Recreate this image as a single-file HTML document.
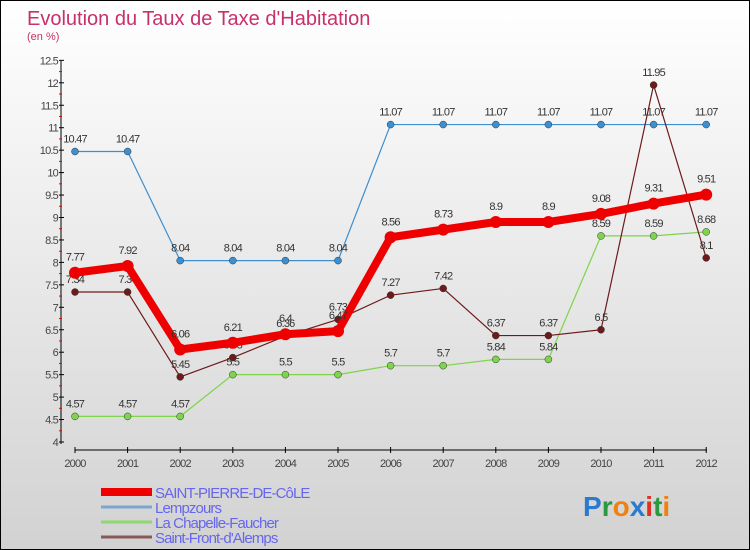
<!DOCTYPE html>
<html><head><meta charset="utf-8"><style>
html,body{margin:0;padding:0}
body{width:750px;height:550px;overflow:hidden;font-family:"Liberation Sans",sans-serif}
#wrap{position:relative;width:748px;height:548px;border:1px solid #000;background:linear-gradient(#ffffff,#d2d2d2)}
</style></head><body>
<div id="wrap">
<svg id="chart" width="748" height="548" style="position:absolute;left:0;top:0">
<text x="26" y="24" font-size="20" fill="#c8306a">Evolution du Taux de Taxe d'Habitation</text>
<text x="26" y="39" font-size="11" fill="#c8306a">(en %)</text>
</svg>
</div>
<script>
const years=[2000,2001,2002,2003,2004,2005,2006,2007,2008,2009,2010,2011,2012];
const yTicks=[4,4.5,5,5.5,6,6.5,7,7.5,8,8.5,9,9.5,10,10.5,11,11.5,12,12.5];
const stPierre=[7.77,7.92,6.06,6.21,6.4,6.47,8.56,8.73,8.9,8.9,9.08,9.31,9.51];
const lempzours=[10.47,10.47,8.04,8.04,8.04,8.04,11.07,11.07,11.07,11.07,11.07,11.07,11.07];
const chapelle=[4.57,4.57,4.57,5.5,5.5,5.5,5.7,5.7,5.84,5.84,8.59,8.59,8.68];
const stFront=[7.34,7.34,5.45,5.88,6.36,6.73,7.27,7.42,6.37,6.37,6.5,11.95,8.1];
const NS="http://www.w3.org/2000/svg";
const svg=document.getElementById('chart');
const xS=i=>74+i*52.6;
const yS=v=>441-(v-4)*44.9;
function mk(t,a,p){const e=document.createElementNS(NS,t);for(const k in a)e.setAttribute(k,a[k]);(p||svg).appendChild(e);return e;}
// axes
let ax=mk('line',{x1:60,y1:60,x2:60,y2:443,stroke:'#000','stroke-width':1});


let bx=mk('line',{x1:74,y1:449,x2:706,y2:449,stroke:'#000','stroke-width':1});


yTicks.forEach(v=>{
 mk('line',{x1:58,y1:yS(v),x2:63,y2:yS(v),stroke:'#000'});
 if(v<12.5) mk('line',{x1:58,y1:yS(v+0.25),x2:61,y2:yS(v+0.25),stroke:'#e00'});
 const t=mk('text',{x:57,y:yS(v)+4,'font-size':11,fill:'#444','text-anchor':'end','letter-spacing':'-0.8'});
 t.textContent=String(v);
 
 
});
years.forEach((y,i)=>{
 mk('line',{x1:xS(i),y1:446,x2:xS(i),y2:452,stroke:'#000'});
 const t=mk('text',{x:xS(i),y:466,'font-size':11,fill:'#444','text-anchor':'middle','letter-spacing':'-0.8'});
 t.textContent=String(y);
 
 
});
function series(vals,color,w,dot,name,labelDy){
 const g=mk('g',{});
 
 
 mk('polyline',{points:vals.map((v,i)=>xS(i)+','+yS(v)).join(' '),fill:'none',stroke:color,'stroke-width':w,'stroke-linejoin':'round'},g);
 vals.forEach((v,i)=>{
  const c=mk('circle',{cx:xS(i),cy:yS(v),r:dot,fill:color,stroke:w>3?color:'#333','stroke-width':w>3?0:0.5},g);
  
  
  const t=mk('text',{x:xS(i),y:yS(v)+labelDy,'font-size':11,fill:'#333','text-anchor':'middle','letter-spacing':'-0.8'},g);
  t.textContent=String(v);
 });
}
series(lempzours,'#3d8fd0',1.2,3.5,'lempzours-series',-9);
series(chapelle,'#7ed44a',1.2,3.5,'chapelle-series',-9);
series(stFront,'#6e1a1a',1.2,3.5,'st-front-series',-9);
series(stPierre,'#ee0000',8,6,'st-pierre-series',-12);
// legend
const leg=[['SAINT-PIERRE-DE-CôLE','#ee0000',8],['Lempzours','#7aa6d0',3],['La Chapelle-Faucher','#8ed870',3],["Saint-Front-d'Alemps",'#8a5a5a',3]];
leg.forEach((l,i)=>{
 const g=mk('g',{});
 
 
 const y=491+i*15;
 mk('line',{x1:100,y1:y,x2:151,y2:y,stroke:l[1],'stroke-width':l[2]},g);
 const t=mk('text',{x:154,y:y+6,'font-size':15,fill:'#6666ee','letter-spacing':'-0.9'},g);
 t.textContent=l[0];
});
// logo
const lg=mk('text',{x:582,y:515,'font-size':28,'font-weight':'bold'});


[['P','#2a7ad0'],['r','#2a9a40'],['o','#f08010'],['x','#2a7ad0'],['i','#e03020'],['t','#2a9a40'],['i','#f08010']].forEach(c=>{const s=mk('tspan',{fill:c[1]},lg);s.textContent=c[0];});
</script>
</body></html>
